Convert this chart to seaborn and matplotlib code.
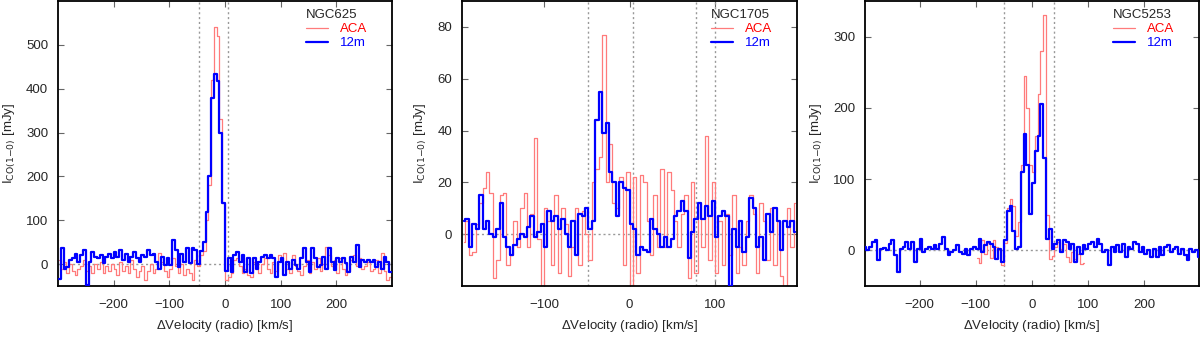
import numpy as np
import pandas as pd
import matplotlib
matplotlib.use('Agg')
import matplotlib.pyplot as plt
import seaborn as sns

# channel grids (start velocity, channel width) in km/s
ngc625_v0, ngc625_dv = -297.5, 5.0
ngc1705_v0, ngc1705_dv = -194.0, 4.0
ngc5253_v0, ngc5253_dv = -297.5, 5.0
ngc5253_aca_v0 = -97.5

# NGC625 spectra [mJy]
ngc625_12m = [-33, 37, -10, -6, 9, 13, 24, 5, 20, 32,
              -48, 5, 28, 17, 13, 20, 2, 17, 24, 13,
              28, 17, 32, 9, 24, 5, 17, 28, 13, 5,
              20, 17, 32, 20, 24, 5, -10, 17, -2, 13,
              -2, 55, 32, -6, 24, 5, 36, 2, 36, 32,
              0, 30, 50, 119, 200, 380, 434, 418, 300, 140,
              -15, 13, -17, 20, 28, 5, 20, -17, 13, -21,
              13, -10, 5, 17, 20, 13, 20, 13, -29, 5,
              13, -25, 5, -10, 9, -2, -10, 13, 36, 5,
              -17, 36, 13, -6, -2, 17, -10, 36, 5, -14,
              13, 5, 13, 2, -17, 17, 5, 43, -6, 9,
              5, 9, 5, 9, -6, 5, -10, 17, 5, -17]
ngc625_aca = [10, -10, 5, -20, 0, -15, -25, -10, -5, 10,
              -15, -5, -20, 0, -10, 5, -20, -5, -15, 0,
              -10, -25, 5, -15, -5, -20, 10, -10, -30, -15,
              -5, -35, -15, 0, -20, -10, 25, 5, -15, -30,
              -10, 15, -5, -20, 0, -25, -10, -20, -35, 10,
              -5, 20, 30, 100, 180, 420, 540, 520, 330, 140,
              -35, -30, -20, 10, 15, -5, -20, -10, -25, -30,
              5, -5, -20, 0, 15, -10, -20, 5, -15, 20,
              10, 25, -10, -20, 20, -5, -15, -25, -5, 10,
              -20, 5, -10, 15, -15, 0, 40, 20, -5, 10,
              -20, 15, -10, -25, -15, 10, 20, -5, 15, -10,
              -5, 5, -15, -10, 10, -20, 25, -15, -35, -30]

# NGC1705 spectra [mJy]
ngc1705_12m = [5, 6, -5, 4, 2, 15, 2, 5, 0, -1,
               2, 12, -1, -5, -8, -4, -2, 0, -1, 3,
               7, -1, 1, 4, -5, 9, 5, 7, 2, 6,
               0, -5, 5, -8, 8, 7, 10, 2, 5, 44,
               55, 39, 43, 24, 20, 7, 20, 18, 17, 4,
               2, -8, -5, -6, -7, 6, 2, 0, -5, -1,
               -5, -2, 7, 9, 13, 9, -9, 1, 6, 12,
               6, 11, 7, 13, -1, 7, 9, 7, -20, 2,
               -5, 5, -7, -1, 14, 10, -5, -1, -10, 8,
               1, 10, 5, -6, 5, 3, 5, 1]
ngc1705_aca = [-3, 5, -8, -7, 4, 12, 18, 24, 16, -17,
               -10, 15, 16, -12, -8, 5, -5, 10, 16, -5,
               8, 37, -2, -20, 10, 5, -12, 15, -15, 10,
               4, -16, -5, 10, -12, 9, 0, -10, 20, 25,
               30, 77, 20, 35, 12, 10, 22, -12, 24, -20,
               22, -15, 23, 20, 5, -8, 15, -5, 25, -5,
               24, 17, 5, -5, 8, 15, -17, 20, -15, 12,
               -5, 38, -10, 20, -15, 5, -12, 8, -8, 15,
               -15, -5, -12, 5, 15, 8, -15, 12, 5, -10,
               10, -12, 5, -16, -20, 10, -5, 12]

# NGC5253 spectra [mJy]
ngc5253_12m = [5, 0, 5, 12, 14, -14, 2, 3, 0, 9,
               14, -7, -30, 2, 5, 12, 2, 12, -16, 2,
               16, -2, 2, 5, 2, 7, 2, 9, 19, 2,
               -7, -2, 0, 7, -2, -5, 2, -7, 2, 5,
               2, 16, -2, 7, 12, 9, 5, -12, 2, -16,
               14, 55, 63, 28, 2, 5, 110, 164, 120, 51,
               95, 140, 160, 205, 130, 16, 30, 2, 9, 14,
               -2, 14, 12, 2, 9, -16, 5, -5, 7, 2,
               9, 12, 5, 16, 9, -2, 0, -21, 5, -2,
               7, -2, 9, -9, 5, 2, 12, 9, -2, 5,
               -5, 0, -9, 2, -9, 5, -7, 5, 7, -2,
               2, 5, -5, 2, -7, -14, 2, -2, 0, -9]
ngc5253_aca = [-10, -18, 15, -5, 10, -10, 14, 5, 0, -20,
               10, 60, 72, 62, 20, 40, 120, 245, 200, 120,
               110, 160, 220, 280, 330, 50, -12, -8, 5, 12,
               2, 9, -9, -16, -2, -12, -5, -19, -18]


def channels(v0, dv, vals):
    return v0 + dv * np.arange(len(vals))


sns.set_style('ticks')
plt.rcParams['font.family'] = ['Liberation Sans', 'DejaVu Sans']
plt.rcParams['mathtext.default'] = 'regular'

fig = plt.figure(figsize=(12, 3.37), dpi=100)
axes = [fig.add_axes([0.0483, 0.151, 0.2784, 0.846]),
        fig.add_axes([0.385, 0.151, 0.2792, 0.846]),
        fig.add_axes([0.7208, 0.151, 0.2784, 0.846])]

panels = [
    dict(name='NGC625', aca=(channels(ngc625_v0, ngc625_dv, ngc625_aca), ngc625_aca),
         m12=(channels(ngc625_v0, ngc625_dv, ngc625_12m), ngc625_12m),
         xlim=(-300, 300), ylim=(-50, 600), xt=[-200, -100, 0, 100, 200],
         yt=[0, 100, 200, 300, 400, 500], vl=[-46, 5]),
    dict(name='NGC1705', aca=(channels(ngc1705_v0, ngc1705_dv, ngc1705_aca), ngc1705_aca),
         m12=(channels(ngc1705_v0, ngc1705_dv, ngc1705_12m), ngc1705_12m),
         xlim=(-196, 196), ylim=(-20, 90), xt=[-100, 0, 100],
         yt=[0, 20, 40, 60, 80], vl=[-49, 4, 78, 100]),
    dict(name='NGC5253', aca=(channels(ngc5253_aca_v0, ngc5253_dv, ngc5253_aca), ngc5253_aca),
         m12=(channels(ngc5253_v0, ngc5253_dv, ngc5253_12m), ngc5253_12m),
         xlim=(-297, 297), ylim=(-50, 350), xt=[-200, -100, 0, 100, 200],
         yt=[0, 100, 200, 300], vl=[-50, 40]),
]

fs = 9.5
for ax, p in zip(axes, panels):
    ax.axhline(0, color='#999999', ls=(0, (1.5, 2)), lw=1, zorder=1)
    for x in p['vl']:
        ax.axvline(x, color='#999999', ls=(0, (1.5, 2)), lw=1, zorder=1)

    df_aca = pd.DataFrame({'v': p['aca'][0], 'flux': p['aca'][1]})
    df_12m = pd.DataFrame({'v': p['m12'][0], 'flux': p['m12'][1]})
    sns.lineplot(data=df_aca, x='v', y='flux', ax=ax, color='#ff7b7b', lw=0.9,
                 drawstyle='steps-mid', estimator=None, errorbar=None,
                 label='ACA', zorder=2)
    sns.lineplot(data=df_12m, x='v', y='flux', ax=ax, color='#0000ff', lw=1.6,
                 drawstyle='steps-mid', estimator=None, errorbar=None,
                 label='12m', zorder=3)

    ax.set_xlim(*p['xlim'])
    ax.set_ylim(*p['ylim'])
    ax.set_xticks(p['xt'])
    ax.set_yticks(p['yt'])
    ax.tick_params(direction='in', length=4.5, width=0.8, color='#666666',
                   top=True, right=True, labelsize=fs)
    ax.tick_params(axis='x', pad=9)
    ax.tick_params(axis='y', pad=7)
    for s in ax.spines.values():
        s.set_linewidth(1.3)
        s.set_color('black')
    ax.set_xlabel(r'$\Delta$Velocity (radio) [km/s]', fontsize=fs, labelpad=5)
    ax.set_ylabel(r'I$_{\rm CO(1{-}0)}$ [mJy]', fontsize=fs, labelpad=6)

    leg = ax.legend(title=p['name'], frameon=False, loc='upper right',
                    bbox_to_anchor=(0.95, 1.0), fontsize=fs, title_fontsize=fs,
                    handlelength=1.7, handletextpad=0.9, labelspacing=0.15,
                    borderaxespad=0.2, alignment='left')
    for text, c in zip(leg.get_texts(), ['#ff0000', '#0000ff']):
        text.set_color(c)

fig.savefig('out.png', dpi=100)
